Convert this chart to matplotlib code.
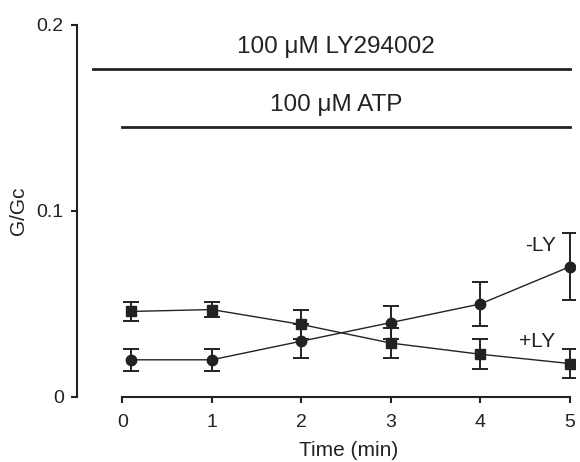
import matplotlib
matplotlib.use("Agg")
from matplotlib import pyplot as plt

plt.rcParams["font.family"] = ["Liberation Sans", "DejaVu Sans"]

# time points (min)
time = [0.1, 1, 2, 3, 4, 5]

# -LY (circles) and +LY (squares), G/Gc with error
minus_ly = [0.020, 0.020, 0.030, 0.040, 0.050, 0.070]
minus_ly_err = [0.006, 0.006, 0.009, 0.009, 0.012, 0.018]
plus_ly = [0.046, 0.047, 0.039, 0.029, 0.023, 0.018]
plus_ly_err = [0.005, 0.004, 0.008, 0.008, 0.008, 0.008]

# treatment bars: (label, start, stop, level)
treatments = [
    ("100 \u03bcM LY294002", -0.33, 5.0, 0.1765),
    ("100 \u03bcM ATP", 0.0, 5.0, 0.1453),
]

fig = plt.figure(figsize=(5.8, 4.62), dpi=100)
ax = fig.add_axes([0.1328, 0.1407, 0.8586, 0.8052])

ink = "#222222"

ax.errorbar(time, minus_ly, yerr=minus_ly_err, fmt="-o", color=ink, lw=1.0,
            ms=7.5, elinewidth=1.4, capsize=5.5, capthick=1.4, zorder=3)
ax.errorbar(time, plus_ly, yerr=plus_ly_err, fmt="-s", color=ink, lw=1.0,
            ms=6.5, elinewidth=1.4, capsize=5.5, capthick=1.4, zorder=3)

for label, start, stop, level in treatments:
    ax.plot([start, stop], [level, level], color=ink, lw=2.0, clip_on=False)
    ax.text(2.39, level + 0.006, label, ha="center",
            va="bottom", fontsize=17.5, color=ink)

ax.text(4.67, 0.0815, "-LY", ha="center", va="center", fontsize=15, color=ink)
ax.text(4.64, 0.0300, "+LY", ha="center", va="center", fontsize=15, color=ink)

ax.set_xlim(-0.506, 5.06)
ax.set_ylim(0, 0.2)
ax.set_xticks([0, 1, 2, 3, 4, 5])
ax.set_yticks([0, 0.1, 0.2])
ax.set_yticklabels(["0", "0.1", "0.2"])

for side in ["top", "right"]:
    ax.spines[side].set_visible(False)
ax.spines["bottom"].set_bounds(0, 5)
ax.spines["left"].set_linewidth(1.5)
ax.spines["bottom"].set_linewidth(1.5)
ax.spines["left"].set_color(ink)
ax.spines["bottom"].set_color(ink)
ax.tick_params(length=4.5, width=1.5, color=ink, labelsize=14, labelcolor=ink)
ax.tick_params(axis="x", pad=8)
ax.tick_params(axis="y", pad=5)

ax.set_xlabel("Time (min)", fontsize=15, color=ink, labelpad=7)
ax.xaxis.label.set_x(0.546)
ax.set_ylabel("G/Gc", fontsize=15, color=ink, labelpad=6)

fig.savefig("out.png", dpi=100)
